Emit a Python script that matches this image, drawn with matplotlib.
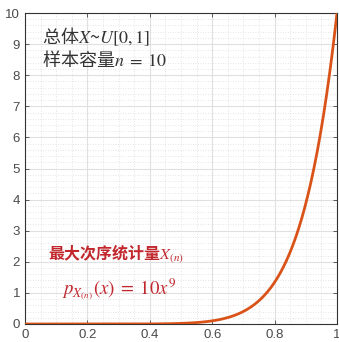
import numpy as np
import matplotlib
matplotlib.use("Agg")
import matplotlib.pyplot as plt
from matplotlib.ticker import MultipleLocator

plt.rcParams['font.family'] = ['Liberation Sans', 'Noto Sans CJK SC', 'DejaVu Sans']
plt.rcParams['mathtext.fontset'] = 'stix'

n = 10
x_ticks = [0, 0.2, 0.4, 0.6, 0.8, 1]
x_tick_labels = ['0', '0.2', '0.4', '0.6', '0.8', '1']
y_ticks = [0, 1, 2, 3, 4, 5, 6, 7, 8, 9, 10]

x = np.linspace(0, 1, 400)
y = n * x ** (n - 1)

fig = plt.figure(figsize=(3.39, 3.42), dpi=100)
ax = fig.add_axes([25/339, 18/342, 312/339, 311/342])

ax.plot(x, y, color='#D95319', lw=2, zorder=3)
ax.set_xlim(0, 1)
ax.set_ylim(0, 10)
ax.set_xticks(x_ticks)
ax.set_xticklabels(x_tick_labels)
ax.set_yticks(y_ticks)
ax.xaxis.set_minor_locator(MultipleLocator(0.05))
ax.yaxis.set_minor_locator(MultipleLocator(0.2))
ax.grid(which='major', color='#e0e0e0', lw=0.8)
ax.grid(which='minor', color='#dcdcdc', lw=0.6, linestyle=(0, (1, 2)))
ax.tick_params(which='both', direction='in', labelsize=9.5, labelcolor='#4a4a4a', color='#444444')
ax.tick_params(which='major', length=3, width=0.6, top=True, right=True)
ax.tick_params(which='minor', length=0)
for s in ax.spines.values():
    s.set_color('#333333')
    s.set_linewidth(0.8)
ax.set_axisbelow(True)

cjk = ['Noto Sans CJK SC', 'DejaVu Sans']
ax.text(0.055, 0.922, '总体$X$~$U[0,1]$', transform=ax.transAxes, fontsize=13,
        color='#333333', family=cjk, va='center')
ax.text(0.055, 0.851, '样本容量$n\\;=\\;10$', transform=ax.transAxes, fontsize=13,
        color='#333333', family=cjk, va='center')
ax.text(0.075, 0.225, '最大次序统计量$X_{(n)}$', transform=ax.transAxes, fontsize=11.5,
        color='#c1272d', family=cjk, fontweight='bold', va='center')
ax.text(0.118, 0.113, '$p_{X_{(n)}}(x)\\;=\\;10x^9$', transform=ax.transAxes, fontsize=13.5,
        color='#c1272d', va='center')

fig.savefig('out.png', dpi=100)
